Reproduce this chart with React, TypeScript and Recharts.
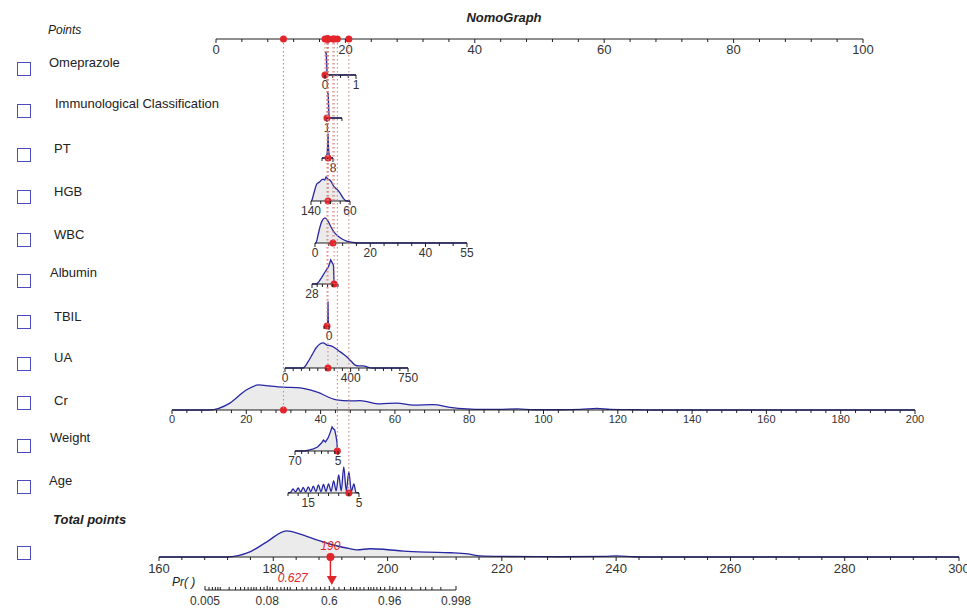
import React from "react";
import { ComposedChart, Area, XAxis, YAxis, ReferenceDot, ReferenceLine, Scatter } from "recharts";

const FONT = '"Liberation Sans", Arial, Helvetica, sans-serif';
const RED = "#e3242b";
const BLUE = "#2727a4";
const FILL = "#ebebeb";
const AXIS = "#1e1e1e";
const TXT = "#333333";
const DOTTED = "#cf7b7b";
const BOX = "#4b4bc2";

// ---------- data ----------
const POINT_TICKS = [0, 4, 8, 12, 16, 20, 24, 28, 32, 36, 40, 44, 48, 52, 56, 60, 64, 68, 72, 76, 80, 84, 88, 92, 96, 100];
const POINT_LABELS = [0, 20, 40, 60, 80, 100];

const omeprazoleDensity = [
  { v: 0, d: 86 }, { v: 0.04, d: 82 }, { v: 0.07, d: 0 }, { v: 1, d: 0 },
];
const immunoDensity = [
  { v: 1, d: 97 }, { v: 1.08, d: 90 }, { v: 1.14, d: 0 }, { v: 2, d: 0 },
];
const ptDensity = [
  { v: 8, d: 0 }, { v: 10.3, d: 0 }, { v: 11, d: 18 }, { v: 11.4, d: 55 }, { v: 11.6, d: 92 },
  { v: 11.8, d: 55 }, { v: 12.2, d: 18 }, { v: 13, d: 0 }, { v: 16, d: 0 },
];
const hgbDensity = [
  { v: 60, d: 0 }, { v: 66, d: 0 }, { v: 70, d: 3 }, { v: 74, d: 11 }, { v: 79, d: 26 }, { v: 85, d: 41 },
  { v: 90, d: 49 }, { v: 95, d: 60 }, { v: 98, d: 71 }, { v: 102, d: 80 }, { v: 106, d: 83 }, { v: 109, d: 90 },
  { v: 112, d: 78 }, { v: 115, d: 82 }, { v: 118, d: 80 }, { v: 122, d: 72 }, { v: 128, d: 64 },
  { v: 134, d: 30 }, { v: 138, d: 4 }, { v: 140, d: 0 },
];
const wbcDensity = [
  { v: 0, d: 0 }, { v: 0.3, d: 0 }, { v: 1.1, d: 30 }, { v: 1.8, d: 60 }, { v: 2.5, d: 82 }, { v: 3.6, d: 94 },
  { v: 4.7, d: 82 }, { v: 5.8, d: 60 }, { v: 6.9, d: 41 }, { v: 8.3, d: 26 }, { v: 9.8, d: 15 },
  { v: 11.2, d: 8 }, { v: 12.7, d: 4 }, { v: 14.5, d: 1 }, { v: 16, d: 0 }, { v: 55, d: 0 },
];
const albuminDensity = [
  { v: 28, d: 0 }, { v: 31.5, d: 0 }, { v: 33.5, d: 10 }, { v: 35.5, d: 25 }, { v: 38, d: 45 },
  { v: 40.6, d: 64 }, { v: 42.4, d: 90 }, { v: 43.5, d: 80 }, { v: 44.5, d: 70 }, { v: 45, d: 0 }, { v: 48, d: 0 },
];
const tbilDensity = [
  { v: 0, d: 0 }, { v: 1.2, d: 0 }, { v: 1.7, d: 40 }, { v: 2, d: 92 }, { v: 2.3, d: 40 }, { v: 2.8, d: 0 }, { v: 10, d: 0 },
];
const uaDensity = [
  { v: 0, d: 0 }, { v: 110, d: 0 }, { v: 140, d: 23 }, { v: 165, d: 49 }, { v: 189, d: 75 }, { v: 213, d: 90 },
  { v: 232, d: 94 }, { v: 256, d: 86 }, { v: 280, d: 83 }, { v: 305, d: 75 }, { v: 329, d: 64 },
  { v: 354, d: 53 }, { v: 378, d: 41 }, { v: 402, d: 26 }, { v: 427, d: 11 }, { v: 451, d: 8 },
  { v: 476, d: 8 }, { v: 500, d: 4 }, { v: 530, d: 0 }, { v: 750, d: 0 },
];
const crDensity = [
  { v: 0, d: 0 }, { v: 10, d: 0 }, { v: 15.6, d: 26 }, { v: 20, d: 75 }, { v: 23.3, d: 94 }, { v: 26.4, d: 90 },
  { v: 30, d: 86 }, { v: 34.5, d: 83 }, { v: 38.9, d: 68 }, { v: 44.3, d: 38 }, { v: 47.9, d: 34 },
  { v: 50.6, d: 35 }, { v: 56, d: 23 }, { v: 60.5, d: 26 }, { v: 65, d: 18 }, { v: 70.3, d: 20 },
  { v: 74.8, d: 10 }, { v: 79.4, d: 4 }, { v: 83.7, d: 2 }, { v: 88, d: 2 }, { v: 92.9, d: 4 }, { v: 97.4, d: 1 },
  { v: 105, d: 1 }, { v: 110, d: 2 }, { v: 114.4, d: 6 }, { v: 118, d: 2 }, { v: 125, d: 1 }, { v: 130, d: 0 },
  { v: 200, d: 0 },
];
const weightDensity = [
  { v: 5, d: 0 }, { v: 6, d: 0 }, { v: 6.5, d: 30 }, { v: 8, d: 56 }, { v: 10, d: 79 }, { v: 12, d: 83 },
  { v: 14, d: 90 }, { v: 17, d: 68 }, { v: 20, d: 49 }, { v: 24, d: 34 }, { v: 27, d: 41 }, { v: 30, d: 30 },
  { v: 36, d: 15 }, { v: 42, d: 8 }, { v: 48, d: 4 }, { v: 55, d: 0 }, { v: 70, d: 0 },
];
const ageDensity = [
  { v: 5, d: 0 }, { v: 5.6, d: 2 }, { v: 6, d: 34 }, { v: 6.5, d: 6 }, { v: 7, d: 79 }, { v: 7.5, d: 8 },
  { v: 8, d: 98 }, { v: 8.5, d: 8 }, { v: 9, d: 68 }, { v: 9.5, d: 8 }, { v: 10, d: 45 }, { v: 10.5, d: 6 },
  { v: 11, d: 34 }, { v: 11.5, d: 6 }, { v: 12, d: 32 }, { v: 12.5, d: 5 }, { v: 13, d: 30 }, { v: 13.5, d: 5 },
  { v: 14, d: 26 }, { v: 14.5, d: 5 }, { v: 15, d: 23 }, { v: 15.5, d: 4 }, { v: 16, d: 21 }, { v: 16.5, d: 4 },
  { v: 17, d: 19 }, { v: 17.5, d: 4 }, { v: 18, d: 15 }, { v: 18.5, d: 2 }, { v: 19, d: 0 },
];
const totalDensity = [
  { v: 160, d: 0 }, { v: 171.8, d: 0 }, { v: 175.9, d: 19 }, { v: 178.8, d: 56 }, { v: 182.3, d: 98 },
  { v: 184.7, d: 86 }, { v: 187.6, d: 64 }, { v: 190.5, d: 45 }, { v: 193.4, d: 31 }, { v: 194.6, d: 27 },
  { v: 197, d: 31 }, { v: 199.3, d: 29 }, { v: 202.8, d: 22 }, { v: 206.9, d: 18 }, { v: 211, d: 16 },
  { v: 214, d: 12 }, { v: 216.2, d: 4 }, { v: 220, d: 2 }, { v: 230, d: 1 }, { v: 238, d: 2 }, { v: 240, d: 4 },
  { v: 243, d: 1 }, { v: 246, d: 0 }, { v: 300, d: 0 },
];

const OMEP_TICKS = [0, 0.25, 0.5, 0.75, 1];
const IMMUNO_TICKS = [1, 2];
const PT_TICKS = [8, 12, 16];
const HGB_TICKS = [60, 80, 100, 120, 140];
const WBC_TICKS = [0, 5, 10, 15, 20, 25, 30, 35, 40, 45, 50, 55];
const ALB_TICKS = [28, 32, 36, 40, 44, 48];
const TBIL_TICKS = [0, 10];
const UA_TICKS = [0, 50, 100, 150, 200, 250, 300, 350, 400, 450, 500, 550, 600, 650, 700, 750];
const CR_TICKS = [0, 4, 8, 12, 16, 20, 24, 28, 32, 36, 40, 44, 48, 52, 56, 60, 64, 68, 72, 76, 80, 84, 88, 92, 96,
  100, 104, 108, 112, 116, 120, 124, 128, 132, 136, 140, 144, 148, 152, 156, 160, 164, 168, 172, 176, 180, 184, 188,
  192, 196, 200];
const WEIGHT_TICKS = [5, 10, 20, 30, 40, 50, 60, 70];
const AGE_TICKS = [5, 7, 9, 11, 13, 15, 17, 19];
const TOTAL_TICKS = [160, 164, 168, 172, 176, 180, 184, 188, 192, 196, 200, 204, 208, 212, 216, 220, 224, 228, 232,
  236, 240, 244, 248, 252, 256, 260, 264, 268, 272, 276, 280, 284, 288, 292, 296, 300];
const TOTAL_LABELS = [160, 180, 200, 220, 240, 260, 280, 300];

const PR_TICKS = [0.005, 0.006, 0.007, 0.008, 0.009, 0.01, 0.015, 0.02, 0.025, 0.03, 0.035, 0.04, 0.045, 0.05, 0.06,
  0.07, 0.08, 0.09, 0.1, 0.12, 0.14, 0.16, 0.18, 0.2, 0.25, 0.3, 0.35, 0.4, 0.45, 0.5, 0.55, 0.6, 0.65, 0.7, 0.75,
  0.8, 0.82, 0.84, 0.86, 0.88, 0.9, 0.91, 0.92, 0.93, 0.94, 0.95, 0.96, 0.965, 0.97, 0.975, 0.98, 0.985, 0.99,
  0.992, 0.994, 0.996, 0.998];
const PR_LABELS = [0.005, 0.08, 0.6, 0.96, 0.998];

const TOTAL_SELECTED = 190;
const PR_SELECTED = 0.627;

type Variable = {
  name: string;
  values: [number, number];
  points: [number, number]; // nomogram points at values[0], values[1]
  ticks: number[];
  labels: number[];
  density: { v: number; d: number }[];
  selected: number;
};

const VARIABLES: Variable[] = [
  { name: "Omeprazole", values: [0, 1], points: [16.85, 21.64], ticks: OMEP_TICKS, labels: [0, 1], density: omeprazoleDensity, selected: 0 },
  { name: "Immunological Classification", values: [1, 2], points: [17.16, 19.47], ticks: IMMUNO_TICKS, labels: [1], density: immunoDensity, selected: 1 },
  { name: "PT", values: [8, 16], points: [18.08, 16.38], ticks: PT_TICKS, labels: [8], density: ptDensity, selected: 11.6 },
  { name: "HGB", values: [60, 140], points: [20.71, 14.68], ticks: HGB_TICKS, labels: [140, 60], density: hgbDensity, selected: 105 },
  { name: "WBC", values: [0, 55], points: [15.3, 38.79], ticks: WBC_TICKS, labels: [0, 20, 40, 55], density: wbcDensity, selected: 6.5 },
  { name: "Albumin", values: [28, 48], points: [14.84, 18.86], ticks: ALB_TICKS, labels: [28], density: albuminDensity, selected: 45 },
  { name: "TBIL", values: [0, 10], points: [17.47, 16.69], ticks: TBIL_TICKS, labels: [0], density: tbilDensity, selected: 4 },
  { name: "UA", values: [0, 750], points: [10.66, 29.68], ticks: UA_TICKS, labels: [0, 400, 750], density: uaDensity, selected: 262 },
  { name: "Cr", values: [0, 200], points: [-6.8, 108.04], ticks: CR_TICKS, labels: [0, 20, 40, 60, 80, 100, 120, 140, 160, 180, 200], density: crDensity, selected: 30 },
  { name: "Weight", values: [5, 70], points: [18.86, 12.21], ticks: WEIGHT_TICKS, labels: [70, 5], density: weightDensity, selected: 6 },
  { name: "Age", values: [5, 19], points: [22.1, 11.13], ticks: AGE_TICKS, labels: [15, 5], density: ageDensity, selected: 7 },
];

// ---------- layout ----------
const PT_PX0 = 216;
const PT_PX1 = 863;
const POINTS_AXIS_Y = 39;
const TOTAL_PX: [number, number] = [159, 959];
const PR_PX: [number, number] = [205, 456];

const ROWS = [
  { axisY: 75, textX: 49, textY: 63, boxY: 69, curve: "linear" },
  { axisY: 118, textX: 55, textY: 104, boxY: 111, curve: "linear" },
  { axisY: 158, textX: 54, textY: 149, boxY: 155, curve: "linear" },
  { axisY: 201, textX: 54, textY: 192, boxY: 197, curve: "monotone" },
  { axisY: 243, textX: 54, textY: 235, boxY: 240, curve: "monotone" },
  { axisY: 284, textX: 50, textY: 273, boxY: 281, curve: "linear" },
  { axisY: 326, textX: 54, textY: 317, boxY: 322, curve: "linear" },
  { axisY: 368, textX: 54, textY: 358, boxY: 364, curve: "monotone" },
  { axisY: 410, textX: 54, textY: 401, boxY: 403, curve: "monotone" },
  { axisY: 451, textX: 50, textY: 438, boxY: 446, curve: "linear" },
  { axisY: 493, textX: 49, textY: 481, boxY: 487, curve: "monotone" },
];
const TOTAL_ROW = { axisY: 557, textY: 520, boxY: 553 };
const PR_AXIS_Y = 590;

const ptsToPx = (p: number) => PT_PX0 + (p / 100) * (PT_PX1 - PT_PX0);
const valueToPoints = (v: Variable, x: number) =>
  v.points[0] + ((x - v.values[0]) / (v.values[1] - v.values[0])) * (v.points[1] - v.points[0]);
const logit = (p: number) => Math.log(p / (1 - p));

const renderTick =
  (fmt: (v: number, i: number) => string | null, fontSize: number, dy: number, dir: number) =>
  (props: any) => {
    const { x, y, payload, index } = props;
    const label = fmt(payload.value, index);
    const major = label !== null;
    return (
      <g>
        <line x1={x} x2={x} y1={y} y2={y + dir * (major ? 4 : 3)} stroke={AXIS} strokeWidth={1} />
        {major && (
          <text x={x} y={y + dy} textAnchor="middle" fontSize={fontSize} fill={TXT} fontFamily={FONT}>
            {label}
          </text>
        )}
      </g>
    );
  };

function AxisRow(props: {
  px: [number, number];
  domain: [number, number];
  reversed: boolean;
  ticks: number[];
  labels: number[];
  density: { v: number; d: number }[];
  selected: number;
  axisY: number;
  curve: string;
  fontSize?: number;
  labelDy?: number;
  axisH?: number;
  extra?: React.ReactNode[];
}) {
  const PAD = 30;
  const TOP = 6;
  const PLOT_H = 32;
  const axisH = props.axisH ?? 24;
  const fs = props.fontSize ?? 12;
  const dy = props.labelDy ?? 14.5;
  const fmt = (v: number) => (props.labels.includes(v) ? String(v) : null);
  return (
    <div style={{ position: "absolute", left: props.px[0] - PAD, top: props.axisY - PLOT_H - TOP }}>
      <ComposedChart
        width={props.px[1] - props.px[0] + PAD * 2}
        height={TOP + PLOT_H + axisH}
        data={props.density}
        margin={{ top: TOP, right: PAD, bottom: 0, left: PAD }}
      >
        <XAxis
          dataKey="v"
          type="number"
          domain={props.domain}
          reversed={props.reversed}
          allowDataOverflow
          ticks={props.ticks}
          interval={0}
          height={axisH}
          tickLine={false}
          tickSize={0}
          tickMargin={0}
          axisLine={{ stroke: AXIS, strokeWidth: 1 }}
          tick={renderTick(fmt, fs, dy, 1)}
        />
        <YAxis hide type="number" domain={[0, 120]} />
        <Area
          type={props.curve as any}
          dataKey="d"
          stroke={BLUE}
          strokeWidth={1.3}
          fill={FILL}
          fillOpacity={1}
          dot={false}
          activeDot={false}
          isAnimationActive={false}
        />
        <ReferenceDot x={props.selected} y={0} r={3.5} fill={RED} stroke="none" ifOverflow="visible" />
        {props.extra}
      </ComposedChart>
    </div>
  );
}

function PrRow() {
  const PAD = 30;
  const PLOT_H = 20;
  const TOP = 2;
  const AXIS_H = 20;
  const fmt = (_v: number, i: number) => (PR_LABELS.includes(PR_TICKS[i]) ? String(PR_TICKS[i]) : null);
  const marker = [{ lp: logit(PR_SELECTED), y: 0.45 }];
  const triangle = (p: any) => (
    <g>
      <path d={`M${p.cx - 5},${p.cy - 5}L${p.cx + 5},${p.cy - 5}L${p.cx},${p.cy + 4}Z`} fill={RED} />
      <text x={p.cx - 24} y={p.cy + 1} textAnchor="end" fontSize={12} fontStyle="italic" fill={RED} fontFamily={FONT}>
        {PR_SELECTED.toFixed(3)}
      </text>
    </g>
  );
  return (
    <div style={{ position: "absolute", left: PR_PX[0] - PAD, top: PR_AXIS_Y - PLOT_H - TOP }}>
      <ComposedChart
        width={PR_PX[1] - PR_PX[0] + PAD * 2}
        height={TOP + PLOT_H + AXIS_H}
        margin={{ top: TOP, right: PAD, bottom: 0, left: PAD }}
      >
        <XAxis
          dataKey="lp"
          type="number"
          domain={[logit(PR_TICKS[0]), logit(PR_TICKS[PR_TICKS.length - 1])]}
          allowDataOverflow
          ticks={PR_TICKS.map(logit)}
          interval={0}
          height={AXIS_H}
          tickLine={false}
          tickSize={0}
          tickMargin={0}
          axisLine={{ stroke: AXIS, strokeWidth: 1 }}
          tick={renderTick(fmt, 12, 15, -1)}
        />
        <YAxis hide dataKey="y" type="number" domain={[0, 1]} />
        <Scatter data={marker} shape={triangle} isAnimationActive={false} />
      </ComposedChart>
    </div>
  );
}

function PointsOverlay() {
  const AXIS_H = 30;
  const marks = VARIABLES.map((v, i) => ({
    p: valueToPoints(v, v.selected),
    y: 0,
    depth: ROWS[i].axisY - POINTS_AXIS_Y,
  }));
  const fmt = (v: number) => (POINT_LABELS.includes(v) ? String(v) : null);
  const dot = (p: any) => <circle cx={p.cx} cy={p.cy} r={3.5} fill={RED} />;
  return (
    <div style={{ position: "absolute", left: 0, top: 0, pointerEvents: "none" }}>
      <ComposedChart
        width={967}
        height={609}
        margin={{ top: POINTS_AXIS_Y - AXIS_H, right: 967 - PT_PX1, bottom: 0, left: PT_PX0 }}
      >
        <XAxis
          orientation="top"
          dataKey="p"
          type="number"
          domain={[0, 100]}
          allowDataOverflow
          ticks={POINT_TICKS}
          interval={0}
          height={AXIS_H}
          tickLine={false}
          tickSize={0}
          tickMargin={0}
          axisLine={{ stroke: AXIS, strokeWidth: 1 }}
          tick={renderTick(fmt, 13, 15, 1)}
        />
        <YAxis hide dataKey="y" type="number" domain={[0, 609 - POINTS_AXIS_Y]} reversed />
        {marks.map((m, i) => (
          <ReferenceLine
            key={i}
            segment={[{ x: m.p, y: 0 }, { x: m.p, y: m.depth }]}
            stroke={DOTTED}
            strokeWidth={1}
            strokeDasharray="1.5 2.5"
            ifOverflow="visible"
          />
        ))}
        <Scatter data={marks} shape={dot} isAnimationActive={false} />
      </ComposedChart>
    </div>
  );
}

const Box = ({ y }: { y: number }) => (
  <div
    style={{
      position: "absolute",
      left: 17,
      top: y - 7,
      width: 12,
      height: 12,
      border: `1.5px solid ${BOX}`,
    }}
  />
);

const Label = ({ x, y, text, style }: { x: number; y: number; text: string; style?: React.CSSProperties }) => (
  <div
    style={{
      position: "absolute",
      left: x,
      top: y - 8,
      lineHeight: "16px",
      fontSize: 13,
      color: "#222",
      whiteSpace: "nowrap",
      ...style,
    }}
  >
    {text}
  </div>
);

export default function App() {
  return (
    <div
      style={{
        position: "absolute",
        left: 0,
        top: 0,
        width: 967,
        height: 609,
        overflow: "hidden",
        background: "#fff",
        fontFamily: FONT,
      }}
    >
      <div
        style={{
          position: "absolute",
          left: 0,
          width: 1008,
          top: 10,
          textAlign: "center",
          fontSize: 13,
          fontWeight: "bold",
          fontStyle: "italic",
          color: "#222",
        }}
      >
        NomoGraph
      </div>
      <Label x={48} y={30} text="Points" style={{ fontStyle: "italic", fontSize: 12 }} />

      {VARIABLES.map((v, i) => (
        <React.Fragment key={v.name}>
          <Box y={ROWS[i].boxY} />
          <Label x={ROWS[i].textX} y={ROWS[i].textY} text={v.name} />
          <AxisRow
            px={[
              ptsToPx(Math.min(v.points[0], v.points[1])),
              ptsToPx(Math.max(v.points[0], v.points[1])),
            ]}
            domain={v.values}
            reversed={v.points[0] > v.points[1]}
            ticks={v.ticks}
            labels={v.labels}
            density={v.density}
            selected={v.selected}
            axisY={ROWS[i].axisY}
            curve={ROWS[i].curve}
            fontSize={v.name === "Cr" ? 11 : 12}
            labelDy={v.name === "Cr" ? 13 : 14.5}
          />
        </React.Fragment>
      ))}

      <Label x={53} y={TOTAL_ROW.textY} text="Total points" style={{ fontWeight: "bold", fontStyle: "italic" }} />
      <Box y={TOTAL_ROW.boxY} />
      <AxisRow
        px={TOTAL_PX}
        domain={[160, 300]}
        reversed={false}
        ticks={TOTAL_TICKS}
        labels={TOTAL_LABELS}
        density={totalDensity}
        selected={TOTAL_SELECTED}
        axisY={TOTAL_ROW.axisY}
        curve="monotone"
        fontSize={13}
        labelDy={15.5}
        axisH={32}
        extra={[
          <ReferenceLine
            key="arrow"
            segment={[{ x: TOTAL_SELECTED, y: 0 }, { x: TOTAL_SELECTED, y: -84 }]}
            stroke={RED}
            strokeWidth={1.5}
            ifOverflow="visible"
          />,
          <ReferenceDot
            key="lbl"
            x={TOTAL_SELECTED}
            y={0}
            r={4}
            fill={RED}
            stroke="none"
            ifOverflow="visible"
            label={{ value: String(TOTAL_SELECTED), position: "top", fill: RED, fontSize: 12, fontStyle: "italic", offset: 3 }}
          />,
        ]}
      />

      <Label x={172} y={582} text="Pr( )" style={{ fontStyle: "italic", fontSize: 12 }} />
      <PrRow />
      <PointsOverlay />
    </div>
  );
}
